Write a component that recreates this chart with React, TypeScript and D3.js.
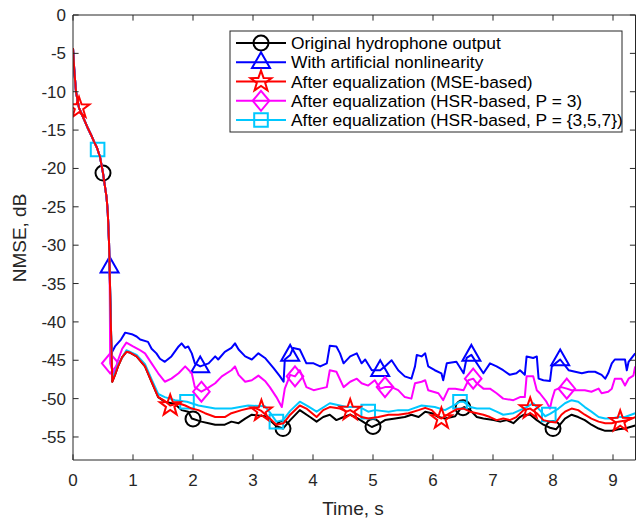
import React from 'react';
import * as d3 from 'd3';

const W = 636;
const H = 519;
const PL = 73, PT = 15, PR = 635.5, PB = 460;

const xTicks = [0, 1, 2, 3, 4, 5, 6, 7, 8, 9];
const yTicks = [0, -5, -10, -15, -20, -25, -30, -35, -40, -45, -50, -55];

// Shared convergence segment (all curves coincide here)
const descent: [number, number][] = [
  [0, -4.3], [0.02, -7.0], [0.05, -10.0], [0.1, -12.1], [0.15, -13.0], [0.2, -13.9],
  [0.25, -14.8], [0.3, -15.6], [0.35, -16.5], [0.4, -17.3], [0.45, -18.5], [0.5, -20.6],
  [0.53, -22.2], [0.56, -23.8], [0.58, -25.8], [0.6, -29.5], [0.61, -32.8],
];

const blackPost: [number, number][] = [
  [0.63, -40], [0.655, -47.8], [0.7, -46.9], [0.75, -45.8], [0.82, -44.6], [0.89, -43.9], [0.95, -44.0],
  [1.06, -44.5], [1.2, -45.8], [1.31, -47.8], [1.42, -49.8], [1.53, -50.4], [1.7, -50.7], [1.81, -51.5],
  [1.92, -51.7], [1.98, -52.6], [2.14, -53.0], [2.26, -53.2], [2.37, -53.4], [2.53, -53.4], [2.64, -53.0],
  [2.76, -53.2], [2.87, -52.6], [2.98, -52.1], [3.09, -52.2], [3.2, -52.3], [3.28, -52.8], [3.39, -53.6],
  [3.5, -53.9], [3.62, -52.8], [3.78, -51.5], [3.95, -52.4], [4.06, -53.0], [4.17, -52.4], [4.28, -52.1],
  [4.39, -52.8], [4.51, -52.4], [4.62, -52.1], [4.73, -52.5], [4.87, -53.2], [4.98, -53.7], [5.1, -53.3],
  [5.2, -52.8], [5.37, -52.6], [5.53, -52.4], [5.64, -52.1], [5.76, -52.4], [5.87, -51.7], [5.98, -51.9],
  [6.09, -52.4], [6.2, -52.6], [6.37, -52.3], [6.45, -51.4], [6.52, -51.1], [6.62, -51.5], [6.73, -52.4],
  [6.84, -52.6], [7.01, -52.8], [7.12, -53.0], [7.23, -52.8], [7.34, -53.2], [7.45, -52.4], [7.51, -52.1],
  [7.62, -52.1], [7.73, -52.8], [7.84, -53.4], [7.95, -53.8], [8.05, -54.0], [8.2, -52.6], [8.31, -52.1],
  [8.42, -52.4], [8.53, -52.8], [8.64, -53.4], [8.76, -53.9], [8.87, -54.2], [8.98, -54.2], [9.09, -54.0],
  [9.2, -53.9], [9.37, -53.5],
];

const bluePost: [number, number][] = [
  [0.625, -38], [0.64, -44.1], [0.7, -43.2], [0.8, -42.3], [0.87, -41.4], [0.98, -41.6], [1.06, -41.9],
  [1.12, -42.3], [1.25, -42.6], [1.31, -43.5], [1.39, -44.1], [1.45, -44.8], [1.53, -45.2], [1.64, -44.5],
  [1.76, -43.2], [1.81, -42.8], [1.87, -43.4], [1.92, -43.2], [1.98, -44.1], [2.03, -45.4], [2.12, -45.8],
  [2.26, -45.4], [2.37, -44.5], [2.42, -44.9], [2.53, -43.9], [2.64, -43.4], [2.7, -42.8], [2.76, -43.6],
  [2.87, -44.5], [2.98, -44.9], [3.09, -44.1], [3.2, -44.7], [3.34, -46.0], [3.45, -47.1], [3.51, -47.8],
  [3.53, -44.9], [3.62, -44.3], [3.67, -43.4], [3.78, -43.6], [3.89, -45.4], [4.01, -45.4], [4.12, -45.8],
  [4.23, -45.4], [4.28, -43.1], [4.39, -43.2], [4.45, -44.1], [4.51, -45.4], [4.62, -44.5], [4.73, -44.1],
  [4.81, -45.4], [4.87, -44.9], [4.98, -46.3], [5.12, -46.3], [5.2, -45.8], [5.31, -45.0], [5.42, -46.3],
  [5.53, -47.1], [5.64, -47.4], [5.7, -45.8], [5.73, -44.3], [5.81, -44.5], [5.87, -44.1], [5.92, -45.8],
  [6.03, -46.3], [6.14, -46.7], [6.17, -47.6], [6.23, -45.4], [6.39, -45.2], [6.51, -46.7], [6.56, -44.7],
  [6.64, -44.3], [6.73, -45.4], [6.84, -46.7], [6.95, -45.4], [7.06, -45.8], [7.17, -46.3], [7.28, -46.9],
  [7.39, -46.7], [7.45, -46.3], [7.53, -46.9], [7.56, -44.5], [7.67, -44.7], [7.73, -44.5], [7.76, -47.4],
  [7.84, -47.6], [7.95, -47.7], [7.98, -45.8], [8.12, -44.9], [8.26, -46.3], [8.37, -46.5], [8.48, -46.7],
  [8.59, -46.5], [8.7, -46.5], [8.81, -46.9], [8.87, -47.4], [8.92, -46.7], [8.98, -45.4], [9.03, -44.9],
  [9.2, -44.9], [9.23, -46.3], [9.26, -45.2], [9.37, -44.1],
];

const redPost: [number, number][] = [
  [0.63, -40], [0.655, -47.8], [0.7, -46.9], [0.75, -45.8], [0.82, -44.6], [0.89, -43.9], [0.95, -44.0],
  [1.06, -44.5], [1.2, -45.8], [1.31, -47.8], [1.42, -49.8], [1.53, -50.3], [1.62, -50.9], [1.76, -50.6],
  [1.87, -50.9], [1.98, -51.3], [2.09, -51.5], [2.2, -51.9], [2.37, -52.4], [2.53, -52.4], [2.64, -51.9],
  [2.81, -51.5], [2.92, -51.3], [3.03, -51.2], [3.14, -51.6], [3.28, -52.6], [3.39, -53.4], [3.51, -53.2],
  [3.62, -52.1], [3.78, -50.9], [3.89, -51.3], [4.06, -52.4], [4.17, -51.5], [4.28, -51.1], [4.45, -51.3],
  [4.56, -51.7], [4.62, -51.5], [4.7, -51.9], [4.81, -52.4], [4.92, -52.6], [5.09, -52.4], [5.26, -52.1],
  [5.42, -52.1], [5.59, -51.9], [5.76, -51.5], [5.87, -51.2], [5.98, -51.5], [6.09, -52.4], [6.14, -52.6],
  [6.28, -51.9], [6.39, -51.4], [6.51, -51.3], [6.62, -51.7], [6.73, -51.9], [6.84, -52.1], [6.95, -52.4],
  [7.06, -52.8], [7.17, -52.6], [7.28, -52.8], [7.39, -52.4], [7.51, -51.5], [7.62, -51.3], [7.73, -51.9],
  [7.84, -52.8], [7.95, -53.0], [8.05, -53.1], [8.14, -52.1], [8.2, -51.7], [8.31, -51.3], [8.42, -51.5],
  [8.53, -52.1], [8.64, -52.6], [8.76, -53.0], [8.87, -53.2], [8.98, -53.2], [9.09, -53.0], [9.26, -52.8],
  [9.37, -52.4],
];

const magentaPost: [number, number][] = [
  [0.62, -45.4], [0.68, -46.9], [0.75, -45.0], [0.82, -43.5], [0.89, -42.7], [1.0, -43.2], [1.1, -43.6],
  [1.2, -44.1], [1.31, -45.4], [1.42, -46.7], [1.53, -47.8], [1.64, -47.4], [1.76, -46.7], [1.87, -45.8],
  [1.98, -46.7], [2.03, -48.5], [2.14, -49.1], [2.25, -48.6], [2.37, -48.0], [2.48, -47.1], [2.64, -46.3],
  [2.7, -45.8], [2.76, -46.9], [2.87, -47.8], [2.98, -47.6], [3.09, -47.0], [3.2, -47.7], [3.28, -48.5],
  [3.39, -49.8], [3.48, -51.1], [3.53, -48.7], [3.62, -46.9], [3.7, -47.1], [3.78, -46.3], [3.89, -48.5],
  [4.01, -48.9], [4.12, -48.7], [4.23, -48.5], [4.28, -46.3], [4.39, -46.5], [4.51, -48.5], [4.62, -47.8],
  [4.73, -47.4], [4.81, -48.0], [4.92, -48.3], [5.03, -47.6], [5.12, -48.7], [5.2, -48.5], [5.31, -48.5],
  [5.42, -48.9], [5.53, -49.8], [5.64, -50.0], [5.7, -48.0], [5.81, -47.8], [5.87, -47.6], [5.92, -48.9],
  [6.09, -49.3], [6.17, -50.2], [6.26, -48.7], [6.37, -48.7], [6.51, -48.9], [6.59, -47.6], [6.67, -47.4],
  [6.73, -48.0], [6.84, -48.7], [6.95, -48.7], [7.06, -49.3], [7.17, -50.0], [7.34, -50.2], [7.45, -49.8],
  [7.53, -49.8], [7.56, -47.1], [7.67, -47.1], [7.73, -48.9], [7.78, -49.3], [7.89, -50.4], [7.95, -51.3],
  [7.98, -50.2], [8.03, -48.9], [8.14, -48.5], [8.23, -48.7], [8.31, -48.9], [8.53, -48.9], [8.64, -49.1],
  [8.76, -48.7], [8.81, -49.3], [8.92, -49.1], [8.98, -48.7], [9.03, -47.4], [9.14, -47.4], [9.2, -48.3],
  [9.26, -47.4], [9.34, -47.0], [9.37, -45.8],
];

const cyanPost: [number, number][] = [
  [0.63, -40], [0.655, -47.5], [0.75, -45.6], [0.89, -43.7], [1.06, -44.3], [1.2, -45.5], [1.31, -47.5],
  [1.42, -49.4], [1.53, -49.8], [1.7, -50.2], [1.9, -50.4], [2.09, -50.9], [2.37, -51.3], [2.64, -51.3],
  [2.92, -50.9], [3.2, -51.0], [3.3, -52.0], [3.39, -53.0], [3.5, -52.8], [3.62, -51.6], [3.78, -50.4],
  [3.92, -51.0], [4.06, -51.7], [4.28, -50.6], [4.56, -51.1], [4.78, -51.1], [4.92, -51.7], [5.03, -51.5],
  [5.26, -51.7], [5.42, -51.5], [5.59, -51.5], [5.81, -50.9], [6.03, -51.1], [6.2, -51.5], [6.34, -50.9],
  [6.45, -50.4], [6.51, -50.4], [6.62, -51.1], [6.73, -51.3], [6.95, -51.3], [7.06, -51.7], [7.17, -52.1],
  [7.34, -51.9], [7.45, -51.5], [7.56, -51.1], [7.67, -50.6], [7.78, -51.5], [7.87, -52.3], [7.95, -52.0],
  [8.09, -51.3], [8.2, -50.6], [8.31, -50.2], [8.42, -50.4], [8.53, -51.1], [8.64, -51.7], [8.76, -52.4],
  [8.87, -52.6], [8.98, -52.6], [9.09, -52.4], [9.2, -52.4], [9.37, -51.9],
];

const blackMarks = [0.5, 2.0, 3.5, 5.0, 6.5, 8.0];
const blueMarks = [0.61, 2.12, 3.62, 5.12, 6.64, 8.12];
const magentaMarks = [0.62, 2.14, 3.7, 5.2, 6.67, 8.23];
const cyanMarks = [0.41, 1.9, 3.39, 4.92, 6.45, 7.93];
const redMarks = [0.1, 1.62, 3.14, 4.62, 6.14, 7.62, 9.12];

const legendLabels = [
  'Original hydrophone output',
  'With artificial nonlinearity',
  'After equalization (MSE-based)',
  'After equalization (HSR-based, P = 3)',
  'After equalization (HSR-based, P = {3,5,7})',
];

type Shape = 'circle' | 'triangle' | 'star' | 'diamond' | 'square';

const seriesDefs: { color: string; shape: Shape; post: [number, number][]; marks: number[] }[] = [
  { color: '#000000', shape: 'circle', post: blackPost, marks: blackMarks },
  { color: '#0000ff', shape: 'triangle', post: bluePost, marks: blueMarks },
  { color: '#ff00ff', shape: 'diamond', post: magentaPost, marks: magentaMarks },
  { color: '#00c8ff', shape: 'square', post: cyanPost, marks: cyanMarks },
  { color: '#ff0000', shape: 'star', post: redPost, marks: redMarks },
];

const legendOrder: { color: string; shape: Shape }[] = [
  { color: '#000000', shape: 'circle' },
  { color: '#0000ff', shape: 'triangle' },
  { color: '#ff0000', shape: 'star' },
  { color: '#ff00ff', shape: 'diamond' },
  { color: '#00c8ff', shape: 'square' },
];

function markerPath(shape: Shape): string {
  switch (shape) {
    case 'circle': {
      const r = 7.5;
      return `M${r},0A${r},${r} 0 1,1 ${-r},0A${r},${r} 0 1,1 ${r},0Z`;
    }
    case 'triangle':
      return 'M0,-10L9,5.8L-9,5.8Z';
    case 'diamond':
      return 'M0,-10L8.3,0L0,10L-8.3,0Z';
    case 'square':
      return 'M-6.8,-6.8L6.8,-6.8L6.8,6.8L-6.8,6.8Z';
    case 'star': {
      const pts: string[] = [];
      for (let i = 0; i < 10; i++) {
        const r = i % 2 === 0 ? 11 : 4.4;
        const a = -Math.PI / 2 + (i * Math.PI) / 5;
        pts.push(`${(r * Math.cos(a)).toFixed(2)},${(r * Math.sin(a)).toFixed(2)}`);
      }
      return 'M' + pts.join('L') + 'Z';
    }
  }
}

export default function App() {
  const x = d3.scaleLinear().domain([0, (PR - PL) / 60]).range([PL, PR]);
  const y = d3.scaleLinear().domain([-58, 0]).range([PB, PT]);
  const line = d3.line<[number, number]>().x((d) => x(d[0])).y((d) => y(d[1]));
  const axisColor = '#262626';
  const font = 'Liberation Sans, Arial, Helvetica, sans-serif';
  const tickLen = 5.6;

  const legX = 230, legY = 31, legW = 392, legH = 101;
  const rowY = [43, 62.3, 81.5, 100.8, 120];

  return (
    <svg width={W} height={H} style={{ position: 'absolute', left: 0, top: 0, background: '#fff' }} fontFamily={font}>
      <rect x={0} y={0} width={W} height={H} fill="#ffffff" />
      <defs>
        <clipPath id="plotclip">
          <rect x={PL} y={PT} width={PR - PL} height={PB - PT} />
        </clipPath>
      </defs>
      <g clipPath="url(#plotclip)">
        {seriesDefs.map((s, i) => {
          const data = [...descent, ...s.post];
          const interp = d3.scaleLinear().domain(data.map((d) => d[0])).range(data.map((d) => d[1]));
          return (
            <g key={i}>
              <path d={line(data) || ''} fill="none" stroke={s.color} strokeWidth={2} strokeLinejoin="round" />
              {s.marks.map((t, j) => (
                <path
                  key={j}
                  d={markerPath(s.shape)}
                  transform={`translate(${x(t)},${y(interp(t))})`}
                  fill="none"
                  stroke={s.color}
                  strokeWidth={2}
                />
              ))}
            </g>
          );
        })}
      </g>
      <g stroke={axisColor} strokeWidth={1} fill="none">
        <line x1={PL} y1={PB} x2={PR} y2={PB} />
        <line x1={PL} y1={PT} x2={PR} y2={PT} />
        <line x1={PL} y1={PT} x2={PL} y2={PB} />
        <line x1={PR} y1={PT} x2={PR} y2={PB} />
        {xTicks.map((t) => (
          <g key={'xt' + t}>
            <line x1={x(t)} x2={x(t)} y1={PB} y2={PB - tickLen} />
            <line x1={x(t)} x2={x(t)} y1={PT} y2={PT + tickLen} />
          </g>
        ))}
        {yTicks.map((t) => (
          <g key={'yt' + t}>
            <line x1={PL} x2={PL + tickLen} y1={y(t)} y2={y(t)} />
            <line x1={PR} x2={PR - tickLen} y1={y(t)} y2={y(t)} />
          </g>
        ))}
      </g>
      <g fill={axisColor} fontSize={17}>
        {xTicks.map((t) => (
          <text key={'xl' + t} x={x(t)} y={486} textAnchor="middle">
            {t}
          </text>
        ))}
        {yTicks.map((t) => (
          <text key={'yl' + t} x={66} y={y(t) + 6} textAnchor="end">
            {t}
          </text>
        ))}
      </g>
      <text x={353} y={515} textAnchor="middle" fontSize={19} fill={axisColor}>
        Time, s
      </text>
      <text transform="translate(26,238) rotate(-90)" textAnchor="middle" fontSize={19} fill={axisColor}>
        NMSE, dB
      </text>
      <g>
        <rect x={legX} y={legY} width={legW} height={legH} fill="#ffffff" stroke={axisColor} strokeWidth={1} />
        {legendOrder.map((l, i) => (
          <g key={'lg' + i}>
            <line x1={236} x2={286} y1={rowY[i]} y2={rowY[i]} stroke={l.color} strokeWidth={2} />
            <path
              d={markerPath(l.shape)}
              transform={`translate(261,${rowY[i]})`}
              fill="none"
              stroke={l.color}
              strokeWidth={2}
            />
            <text x={291} y={rowY[i] + 6} fontSize={17.4} fill="#000">
              {legendLabels[i]}
            </text>
          </g>
        ))}
      </g>
    </svg>
  );
}
